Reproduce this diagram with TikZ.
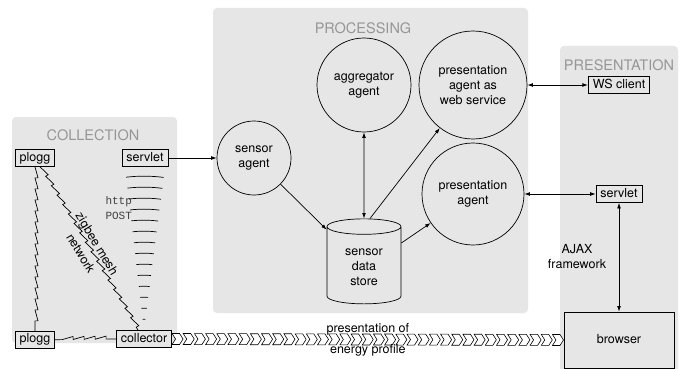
\documentclass[tikz,border=0pt]{standalone}
\usepackage{fontspec}
\setmainfont{TeX Gyre Heros}
\setmonofont{Liberation Mono}
\usetikzlibrary{positioning, arrows.meta, shapes.geometric, calc, decorations.pathmorphing, decorations.pathreplacing}

\definecolor{panelgray}{RGB}{230,230,230}
\definecolor{titlegray}{RGB}{150,150,150}

\begin{document}
\begin{tikzpicture}[x=1pt, y=-1pt]
		\tikzset{
			>={Latex[length=5.5pt, width=3.8pt]},
			every node/.style={font=\fontsize{12.5}{15}\selectfont},
			panel/.style={fill=panelgray, rounded corners=4pt},
			paneltitle/.style={text=titlegray, font=\fontsize{14.5}{16}\selectfont},
			box/.style={draw, fill=panelgray, line width=0.7pt, inner xsep=4.5pt, inner ysep=0pt, minimum height=17pt, text height=9pt, text depth=2.6pt},
			agent/.style={draw, circle, align=center, inner sep=0pt, line width=0.7pt},
			datastore/.style={draw, cylinder, shape border rotate=90, aspect=0.35, minimum width=74pt, minimum height=85pt, align=center, line width=0.7pt},
			zigbee/.style={line width=0.7pt, decorate, decoration={saw, segment length=11pt, amplitude=3pt}},
			link/.style={line width=0.7pt},
			chevron/.style={draw, fill=white, line width=0.6pt, line join=miter}
		}
		\path[use as bounding box, fill=white] (0,0) rectangle (688,369);
		
		% Panels
		\fill[panel] (12,117) rectangle (177,343);
		\fill[panel] (213,8) rectangle (528,313);
		\fill[panel] (560,46) rectangle (678,380);
		\node[paneltitle] (coltitle) at (93,135) {COLLECTION};
		\node[paneltitle] (proctitle) at (363,28) {PROCESSING};
		\node[paneltitle] (prestitle) at (619,65) {PRESENTATION};
		
		% Collection
		\node[box] (ploggA) at (35,158) {plogg};
		\node[box] (servletA) at (145,158) {servlet};
		\node[box, below=164pt of ploggA] (ploggB) {plogg};
		\node[box] (coll) at (144,339) {collector};
		\node[font=\fontsize{11}{15}\selectfont\ttfamily, text=black!75, align=left, anchor=west] (http) at (102,208) {http\\POST};
		
		% Processing
		\node[agent, minimum size=74pt] (sensor) at (254,158) {sensor\\agent};
		\node[agent, minimum size=94pt] (aggr) at (364,85) {aggregator\\agent};
		\node[agent, minimum size=108pt] (websvc) at (473,85) {presentation\\agent as\\web service};
		\node[agent, minimum size=102pt] (presag) at (473,194) {presentation\\agent};
		\node[datastore] (store) at (364,267) {sensor\\data\\store};
		
		% Presentation
		\node[box] (wsclient) at (619,85) {WS client};
		\node[box] (servletB) at (619,194) {servlet};
		\node[box, minimum width=110pt, minimum height=56pt] (browser) at (619,340) {browser};
		\node[align=center] (ajax) at (577,257) {AJAX\\framework};
		
		% Zigbee mesh
		\draw[zigbee] (ploggA.south) -- (ploggB.north);
		\draw[zigbee] ([xshift=5pt]ploggA.south) -- ([xshift=-6pt]coll.north);
		\draw[zigbee, decoration={pre length=7pt, post length=8pt}] (ploggB.east) -- (coll.west);
		\path ([xshift=5pt]ploggA.south) -- ([xshift=-6pt]coll.north) node[midway, sloped, align=center, font=\fontsize{12.5}{19}\selectfont] (mesh) {zigbee mesh\\network};
		
		% http POST waves
		\draw[line width=0.7pt, decorate, decoration={expanding waves, angle=7, segment length=11pt}] (coll.north) -- (servletA.south);
		
		% Arrows
		\draw[link, ->] (servletA) -- (sensor);
		\draw[link, ->] (sensor) -- (store.north west);
		\draw[link, <->] (store.north) -- (aggr);
		\draw[link, ->] ([xshift=6pt]store.north) -- (websvc);
		\draw[link, ->] ([yshift=24pt]store.east) -- (presag);
		\draw[link, <->] (websvc) -- (wsclient);
		\draw[link, <->] (presag) -- (servletB);
		\draw[link, <->] (servletB) -- (browser);
		
		% Energy profile
		\foreach \i in {0,...,34}
			\draw[chevron] ($(coll.east)!\i/35!(browser.west)$) ++(0,-5.5) -- ++(7.5,0) -- ++(3.5,5.5) -- ++(-3.5,5.5) -- ++(-7.5,0) -- ++(3.5,-5.5) -- cycle;
		\path (coll.east) -- (browser.west) node[midway, above=1pt] (profA) {presentation of} node[midway, below=1pt] (profB) {energy profile};
		
	\end{tikzpicture}
\end{document}
